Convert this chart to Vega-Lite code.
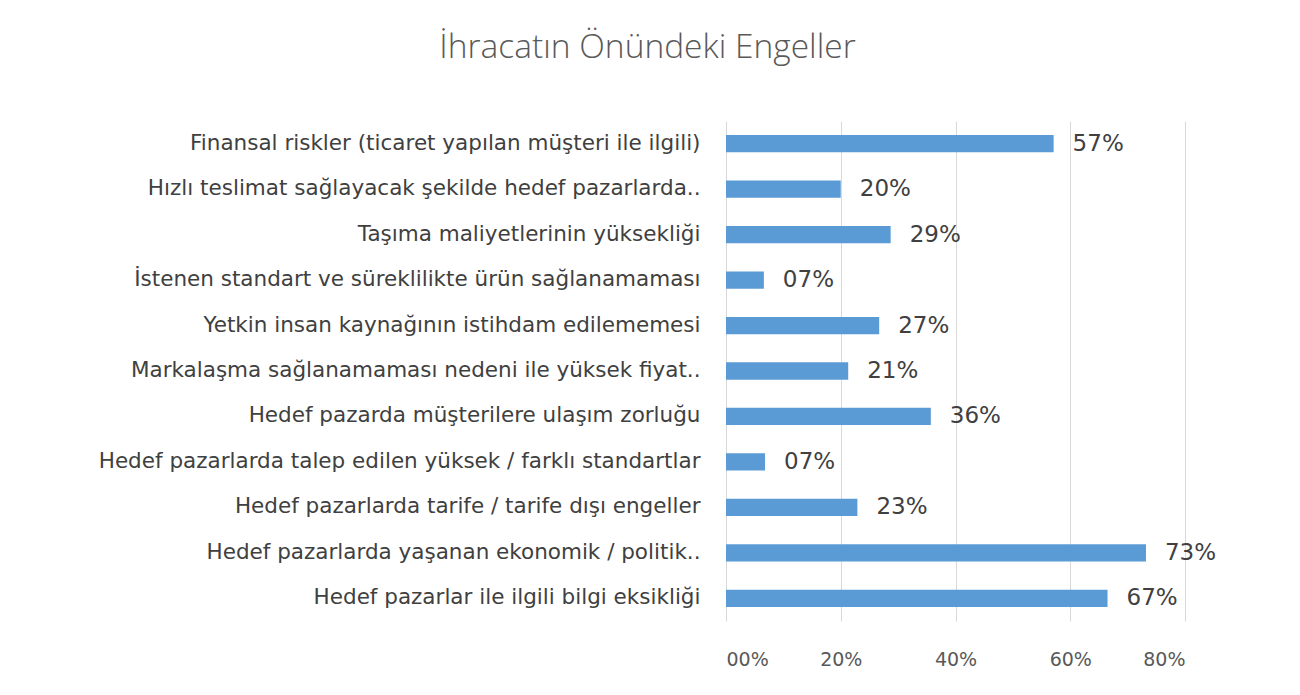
{
  "$schema": "https://vega.github.io/schema/vega-lite/v6.json",
  "autosize": "none",
  "width": 459,
  "height": 500,
  "padding": {"left": 726, "top": 121, "right": 115, "bottom": 74},
  "background": "white",
  "title": {
    "text": "İhracatın Önündeki  Engeller",
    "anchor": "middle",
    "frame": "group",
    "dx": -308,
    "offset": 56,
    "font": "Open Sans",
    "fontSize": 33.5,
    "fontWeight": 300,
    "color": "#595959"
  },
  "data": {
    "values": [
      {"engel": "Finansal riskler (ticaret yapılan müşteri ile ilgili)", "oran": 0.571},
      {"engel": "Hızlı teslimat sağlayacak şekilde hedef pazarlarda..", "oran": 0.2},
      {"engel": "Taşıma maliyetlerinin yüksekliği", "oran": 0.287},
      {"engel": "İstenen standart ve süreklilikte ürün sağlanamaması", "oran": 0.066},
      {"engel": "Yetkin insan kaynağının istihdam edilememesi", "oran": 0.267},
      {"engel": "Markalaşma sağlanamaması nedeni ile yüksek fiyat..", "oran": 0.213},
      {"engel": "Hedef pazarda müşterilere ulaşım zorluğu", "oran": 0.357},
      {"engel": "Hedef pazarlarda talep edilen yüksek / farklı standartlar", "oran": 0.068},
      {"engel": "Hedef pazarlarda tarife / tarife dışı engeller", "oran": 0.229},
      {"engel": "Hedef pazarlarda yaşanan ekonomik / politik..", "oran": 0.732},
      {"engel": "Hedef pazarlar ile ilgili bilgi eksikliği", "oran": 0.665}
    ]
  },
  "encoding": {
    "y": {
      "field": "engel",
      "type": "nominal",
      "sort": null,
      "scale": {"paddingInner": 0.62, "paddingOuter": 0.31},
      "axis": {
        "title": null,
        "domain": false,
        "ticks": false,
        "labelPadding": 26,
        "labelLimit": 700,
        "labelFont": "DejaVu Sans",
        "labelFontSize": 21.5,
        "labelColor": "#404040"
      }
    },
    "x": {
      "field": "oran",
      "type": "quantitative",
      "scale": {"domain": [0, 0.8], "nice": false},
      "axis": {
        "title": null,
        "format": "03.0%",
        "values": [0, 0.2, 0.4, 0.6, 0.8],
        "domain": false,
        "ticks": false,
        "grid": true,
        "gridColor": "#d9d9d9",
        "gridWidth": 1,
        "labelPadding": 29,
        "labelFont": "DejaVu Sans",
        "labelFontSize": 19,
        "labelColor": "#595959"
      }
    }
  },
  "layer": [
    {"mark": {"type": "bar", "color": "#5b9bd5"}},
    {
      "mark": {
        "type": "text",
        "align": "left",
        "baseline": "middle",
        "dx": 19,
        "font": "DejaVu Sans",
        "fontSize": 23,
        "color": "#404040"
      },
      "encoding": {"text": {"field": "oran", "type": "quantitative", "format": "03.0%"}}
    }
  ],
  "config": {"view": {"stroke": null}}
}
